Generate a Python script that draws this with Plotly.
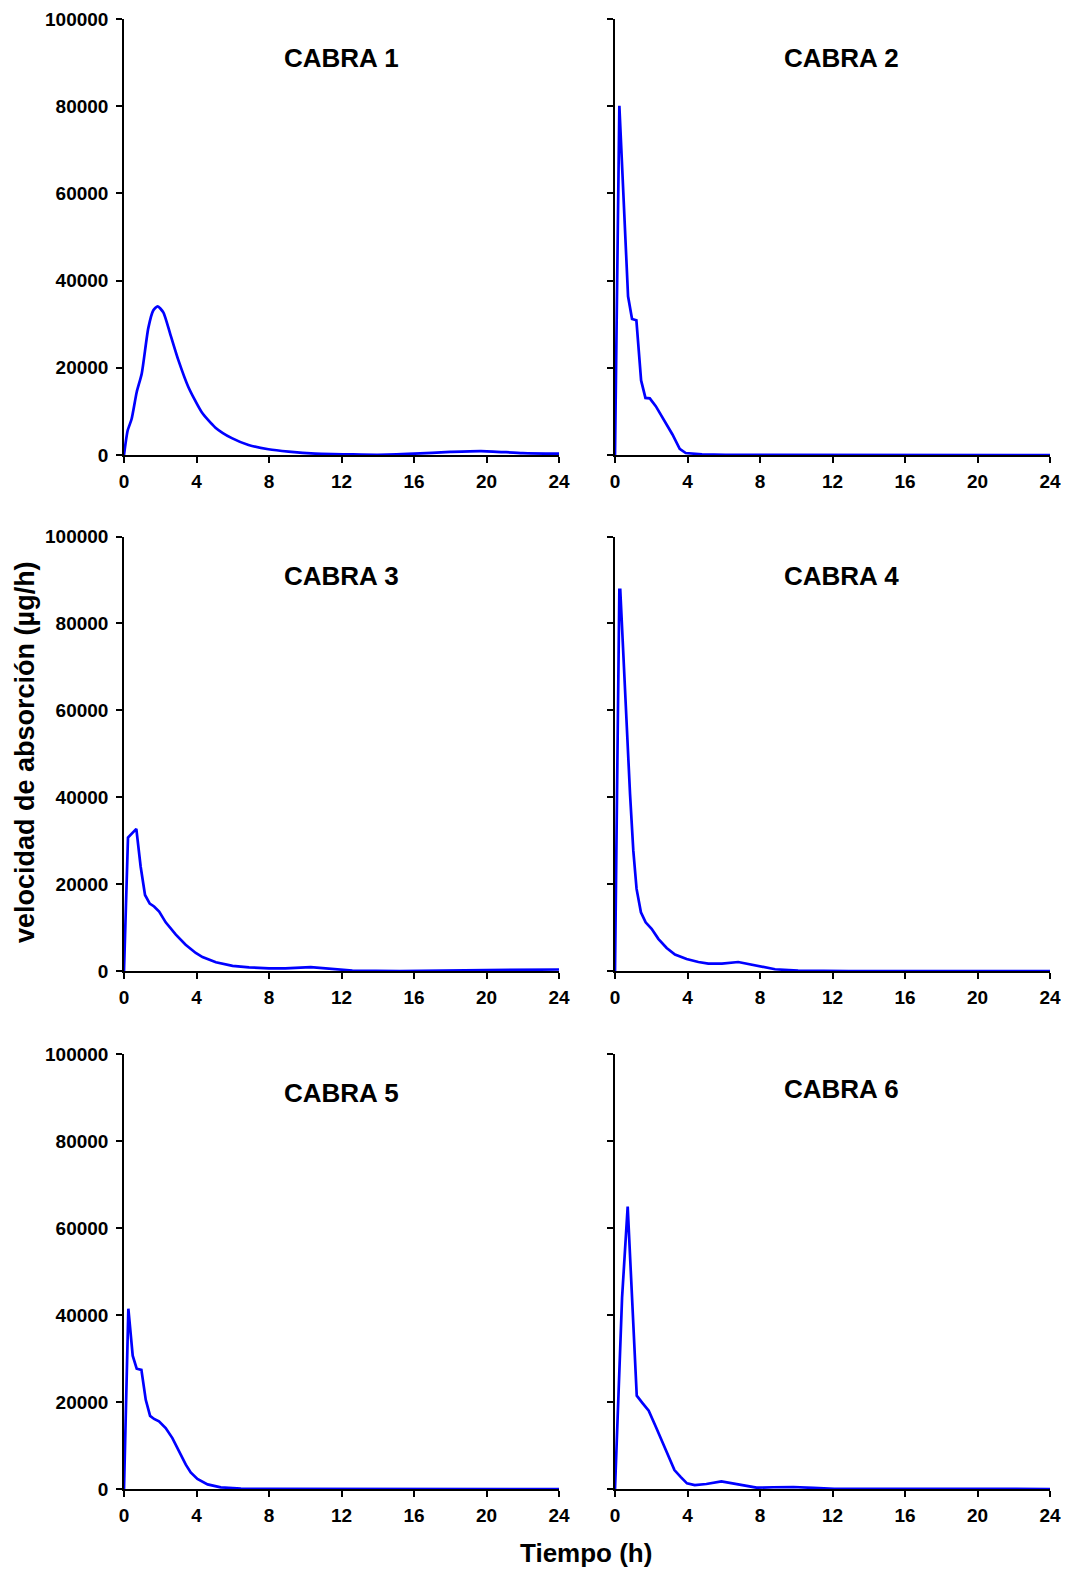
import plotly.graph_objects as go

# ---- data (time in h, absorption rate in µg/h) ----
t1 = [0, 0.2, 0.42, 0.7, 0.98, 1.34, 1.62, 1.86, 2.17, 2.54, 3.0, 3.55, 4.29, 5.03, 5.95, 6.87, 7.97, 9.08, 10.55, 12.4, 14, 16, 18, 19.7, 22, 24]
v1 = [0, 5560, 8260, 14400, 18700, 29100, 33200, 34100, 32700, 27900, 21750, 15600, 9800, 6330, 3860, 2310, 1310, 770, 310, 150, 50, 300, 700, 900, 450, 300]

t2 = [0, 0.24, 0.72, 0.94, 1.18, 1.44, 1.68, 1.92, 2.25, 3.17, 3.57, 3.9, 4.8, 6.1, 24]
v2 = [0, 80100, 36400, 31200, 30900, 17100, 13100, 13000, 11200, 4700, 1400, 460, 150, 30, 0]

t3 = [0, 0.22, 0.68, 0.92, 1.16, 1.42, 1.66, 1.94, 2.3, 2.86, 3.4, 3.96, 4.33, 5.07, 5.99, 6.9, 8.0, 8.9, 10.3, 11.5, 12.6, 15.2, 16, 20, 24]
v3 = [0, 30700, 32700, 24000, 17500, 15500, 14850, 13700, 11200, 8350, 6050, 4150, 3200, 2000, 1200, 850, 600, 600, 900, 450, 100, 0, 50, 200, 350]

t4 = [0, 0.24, 0.29, 0.55, 0.83, 1.01, 1.19, 1.43, 1.69, 2.02, 2.39, 2.85, 3.31, 3.95, 4.6, 5.15, 5.9, 6.8, 7.72, 8.83, 10.1, 12.9, 24]
v4 = [0, 87700, 87700, 63600, 40700, 27700, 18900, 13500, 11200, 9700, 7400, 5300, 3800, 2750, 2070, 1700, 1700, 2070, 1300, 400, 100, 0, 0]

t5 = [0, 0.24, 0.48, 0.70, 0.96, 1.2, 1.44, 1.66, 1.93, 2.3, 2.67, 3.04, 3.41, 3.68, 4.05, 4.61, 5.34, 6.45, 7.9, 24]
v5 = [0, 41450, 30650, 27650, 27400, 20500, 16800, 16100, 15550, 14000, 11700, 8650, 5600, 3800, 2300, 1070, 380, 100, 20, 0]

t6 = [0, 0.39, 0.70, 0.97, 1.2, 1.53, 1.86, 2.27, 2.83, 3.28, 3.62, 3.97, 4.4, 5.04, 5.87, 6.7, 7.81, 8.73, 9.84, 10.95, 12.1, 24]
v6 = [0, 44000, 64900, 40200, 21450, 19700, 18000, 14150, 8800, 4350, 2800, 1300, 900, 1150, 1750, 1150, 300, 400, 460, 250, 50, 0]

series = [(t1, v1), (t2, v2), (t3, v3), (t4, v4), (t5, v5), (t6, v6)]
titles = ["CABRA 1", "CABRA 2", "CABRA 3", "CABRA 4", "CABRA 5", "CABRA 6"]
x_ticks = [0, 4, 8, 12, 16, 20, 24]
y_ticks = [0, 20000, 40000, 60000, 80000, 100000]

# page body has an 8px default margin, so the figure is sized to fit inside it
W, H = 1053, 1563
FONT = "Arial, 'Liberation Sans', Helvetica, sans-serif"

# panel geometry in figure pixels
col_px = [(116, 551), (607, 1042)]
row_px = [(11, 447), (528.5, 963), (1046, 1481)]
title_y = [91000, 91000, 91000, 91000, 91000, 92000]
title_x = [12, 12.5, 12, 12.5, 12, 12.5]
shapes = ["spline", "linear", "linear", "linear", "linear", "linear"]

fig = go.Figure()
for i, ((t, v), title) in enumerate(zip(series, titles)):
    r, c = divmod(i, 2)
    n = i + 1
    xa = "x" if n == 1 else f"x{n}"
    ya = "y" if n == 1 else f"y{n}"
    line = dict(color="#0000FF", width=2.7, shape=shapes[i])
    if shapes[i] == "spline":
        line["smoothing"] = 0.6
    fig.add_trace(go.Scatter(x=t, y=v, mode="lines", xaxis=xa, yaxis=ya,
                             line=line, showlegend=False, hoverinfo="skip"))
    x0, x1 = col_px[c]
    y0, y1 = row_px[r]
    xdom = [x0 / W, x1 / W]
    ydom = [1 - y1 / H, 1 - y0 / H]
    xkey = "xaxis" if n == 1 else f"xaxis{n}"
    ykey = "yaxis" if n == 1 else f"yaxis{n}"
    fig.layout[xkey] = dict(domain=xdom, range=[0, 24], anchor=ya, automargin=False,
                            tickvals=x_ticks, ticktext=[str(x) for x in x_ticks],
                            ticks="outside", ticklen=6, tickwidth=1.5, tickcolor="black",
                            ticklabelstandoff=2,
                            showline=True, linecolor="black", linewidth=1.5,
                            showgrid=False, zeroline=False,
                            tickfont=dict(family=FONT, size=19, color="black", weight="bold"))
    fig.layout[ykey] = dict(domain=ydom, range=[0, 100000], anchor=xa, automargin=False,
                            tickvals=y_ticks, ticktext=[str(y) for y in y_ticks],
                            showticklabels=(c == 0),
                            ticks="outside", ticklen=6, tickwidth=1.5, tickcolor="black",
                            ticklabelstandoff=4,
                            showline=True, linecolor="black", linewidth=1.5,
                            showgrid=False, zeroline=False,
                            tickfont=dict(family=FONT, size=19, color="black", weight="bold"))
    fig.add_annotation(x=title_x[i], y=title_y[i], xref=xa, yref=ya, text=f"<b>{title}</b>",
                       showarrow=False, xanchor="center", yanchor="middle",
                       font=dict(family=FONT, size=26, color="black"))

fig.add_annotation(x=17 / W, y=1 - 744 / H, xref="paper", yref="paper",
                   text="<b>velocidad de absorción (µg/h)</b>", textangle=-90, showarrow=False,
                   xanchor="center", yanchor="middle",
                   font=dict(family=FONT, size=27, color="black"))
fig.add_annotation(x=578 / W, y=1 - 1545 / H, xref="paper", yref="paper",
                   text="<b>Tiempo (h)</b>", showarrow=False,
                   xanchor="center", yanchor="middle",
                   font=dict(family=FONT, size=26, color="black"))

fig.update_layout(width=W, height=H, margin=dict(l=0, r=0, t=0, b=0, autoexpand=False),
                  paper_bgcolor="white", plot_bgcolor="white")

fig.write_html("out.html")
